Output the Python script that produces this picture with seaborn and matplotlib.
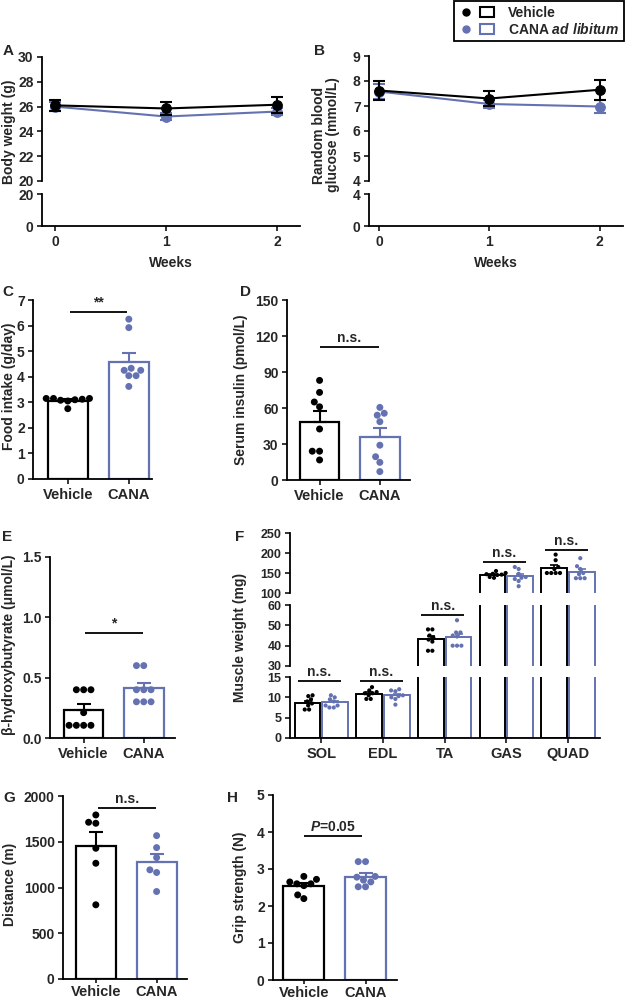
import numpy as np
import pandas as pd
import matplotlib
matplotlib.use("Agg")
import matplotlib.pyplot as plt
import seaborn as sns
from matplotlib.lines import Line2D
from matplotlib.patches import Patch
from matplotlib.legend_handler import HandlerTuple

# ---------------- data ----------------
groups = ["Vehicle", "CANA"]
weeks = [0, 1, 2]

bw_vehicle_mean = [26.1, 25.85, 26.15]
bw_vehicle_sem = [0.45, 0.55, 0.65]
bw_cana_mean = [26.0, 25.2, 25.6]
bw_cana_sem = [0.35, 0.3, 0.3]

glu_vehicle_mean = [7.62, 7.3, 7.65]
glu_vehicle_sem = [0.38, 0.3, 0.4]
glu_cana_mean = [7.58, 7.08, 6.98]
glu_cana_sem = [0.3, 0.15, 0.25]

food_vehicle = [3.15, 3.15, 3.12, 3.08, 3.05, 3.1, 3.15, 2.75]
food_cana = [6.25, 5.92, 4.33, 4.25, 4.25, 4.04, 4.04, 3.62]

insulin_vehicle = [83, 73, 65, 61, 42.5, 24, 24, 16.7]
insulin_cana = [60.5, 55.6, 54, 48.6, 29, 19.4, 14.7, 7]

bhb_vehicle = [0.40, 0.40, 0.40, 0.21, 0.105, 0.105, 0.105, 0.105]
bhb_cana = [0.6, 0.6, 0.4, 0.4, 0.4, 0.3, 0.3, 0.3]

muscles = ["SOL", "EDL", "TA", "GAS", "QUAD"]
sol_vehicle = [10.5, 10.3, 9.5, 9.0, 8.5, 7.0, 7.0, 8.0]
sol_cana = [10.5, 10.0, 9.5, 9.0, 8.0, 7.5, 7.5, 8.0]
edl_vehicle = [12.5, 11.7, 11.3, 11.0, 11.0, 10.5, 9.6, 9.6]
edl_cana = [12.0, 11.7, 11.5, 10.5, 10.3, 10.0, 9.6, 8.2]
ta_vehicle = [48, 48, 45, 44, 43, 42, 37.5, 37.5]
ta_cana = [52.5, 46.5, 46.5, 45, 44.5, 40, 40, 40]
gas_vehicle = [155, 150, 148, 147, 146, 145, 140, 138]
gas_cana = [165, 160, 148, 140, 138, 135, 130, 117]
quad_vehicle = [196, 182, 165, 160, 150, 150, 150, 150]
quad_cana = [187, 167, 160, 150, 147, 137, 137, 137]

distance_vehicle = [1793, 1713, 1702, 1429, 1265, 811]
distance_cana = [1567, 1436, 1327, 1193, 1164, 956]

grip_vehicle = [2.8, 2.72, 2.65, 2.6, 2.6, 2.55, 2.3, 2.2]
grip_cana = [3.2, 3.2, 2.8, 2.78, 2.7, 2.65, 2.52, 2.52]

# ---------------- style ----------------
sns.set_style("ticks")
plt.rcParams["font.family"] = ["Liberation Sans", "DejaVu Sans"]
plt.rcParams["font.weight"] = "bold"
plt.rcParams["axes.labelweight"] = "bold"
plt.rcParams["mathtext.fontset"] = "custom"
plt.rcParams["mathtext.it"] = "Liberation Sans:italic:bold"
plt.rcParams["mathtext.rm"] = "Liberation Sans:bold"
plt.rcParams["mathtext.bf"] = "Liberation Sans:bold"
plt.rcParams["axes.linewidth"] = 1.3
plt.rcParams["xtick.major.width"] = 1.3
plt.rcParams["ytick.major.width"] = 1.3
plt.rcParams["xtick.major.size"] = 3.5
plt.rcParams["ytick.major.size"] = 3.5
plt.rcParams["xtick.major.pad"] = 3
plt.rcParams["ytick.major.pad"] = 2.5
plt.rcParams["xtick.labelsize"] = 10
plt.rcParams["ytick.labelsize"] = 10
plt.rcParams["axes.edgecolor"] = "black"

BLUE = "#6472B1"
pal = {"Vehicle": "black", "CANA": BLUE}
FS = 10

W, H = 626, 1001
fig = plt.figure(figsize=(W / 100, H / 100), dpi=100)


def ax_px(x0, y0, x1, y1):
    a = fig.add_axes([x0 / W, 1 - y1 / H, (x1 - x0) / W, (y1 - y0) / H])
    sns.despine(ax=a)
    return a


def hide_x(a):
    a.spines["bottom"].set_visible(False)
    a.tick_params(bottom=False, labelbottom=False)


def ftext(x, y, s, **kw):
    fig.text(x / W, 1 - y / H, s, **kw)


def ylab(x, y, s):
    ftext(x, y, s, rotation=90, ha="center", va="center", fontsize=FS, fontweight="bold",
          linespacing=1.05)


def sig(ax, x0, x1, y, s, lw=1.3, fs=FS):
    ax.plot([x0, x1], [y, y], color="black", lw=lw, clip_on=False, solid_capstyle="butt")
    ax.annotate(s, xy=((x0 + x1) / 2, y), xytext=(0, 1.5), textcoords="offset points",
                ha="center", va="bottom", fontsize=fs, fontweight="bold", annotation_clip=False)


def sem(v):
    v = np.asarray(v, float)
    return v.std(ddof=1) / np.sqrt(len(v))


# ---------------- A & B: line panels ----------------
def line_panel(up, lo, v_mean, v_sem, c_mean, c_sem, up_lim, up_ticks, lo_lim, lo_ticks, xlim):
    for mean, err, col, z in [(c_mean, c_sem, BLUE, 2), (v_mean, v_sem, "black", 3)]:
        sns.lineplot(x=weeks, y=mean, color=col, marker="o", markersize=7, markeredgecolor=col,
                     linewidth=1.5, ax=up, zorder=z)
        up.errorbar(weeks, mean, yerr=err, fmt="none", ecolor=col, elinewidth=1.5,
                    capsize=4, capthick=1.5, zorder=z)
    up.set_ylim(*up_lim)
    up.set_yticks(up_ticks)
    up.set_xlim(*xlim)
    hide_x(up)
    lo.set_ylim(*lo_lim)
    lo.set_yticks(lo_ticks)
    lo.set_xlim(*xlim)
    lo.set_xticks(weeks)
    lo.set_xticklabels([str(w) for w in weeks])
    lo.set_xlabel("Weeks", fontsize=FS, fontweight="bold", labelpad=5)


A_up = ax_px(42, 57, 300, 181)
A_lo = ax_px(42, 194, 300, 226)
line_panel(A_up, A_lo, bw_vehicle_mean, bw_vehicle_sem, bw_cana_mean, bw_cana_sem,
           (20, 30), [20, 22, 24, 26, 28, 30], (0, 20), [0, 20], (-0.117, 2.207))

B_up = ax_px(369, 56, 623, 181)
B_lo = ax_px(369, 194, 623, 226)
line_panel(B_up, B_lo, glu_vehicle_mean, glu_vehicle_sem, glu_cana_mean, glu_cana_sem,
           (4, 9), [4, 5, 6, 7, 8, 9], (0, 4), [0, 4], (-0.09, 2.21))

ylab(9, 132, "Body weight (g)")
ylab(326, 135, "Random blood\nglucose (mmol/L)")


# ---------------- two-bar panels ----------------
def bar_panel(ax, vehicle, cana, ylim, yticks, xlim, dot=5, yfmt=None):
    df = pd.DataFrame({"group": ["Vehicle"] * len(vehicle) + ["CANA"] * len(cana),
                       "value": list(vehicle) + list(cana)})
    sns.barplot(data=df, x="group", y="value", hue="group", order=groups, hue_order=groups,
                palette=pal, errorbar=None, fill=False, width=0.66, linewidth=1.6,
                legend=False, ax=ax)
    sns.swarmplot(data=df, x="group", y="value", hue="group", order=groups, hue_order=groups,
                  palette=pal, size=dot, legend=False, ax=ax, zorder=3)
    for i, (vals, col) in enumerate([(vehicle, "black"), (cana, BLUE)]):
        ax.errorbar(i, np.mean(vals), yerr=[[0], [sem(vals)]], fmt="none", ecolor=col,
                    elinewidth=1.5, capsize=5, capthick=1.5, zorder=4)
    ax.set_ylim(*ylim)
    ax.set_yticks(yticks)
    if yfmt:
        ax.set_yticklabels([yfmt.format(t) for t in yticks])
    ax.set_xlim(*xlim)
    ax.set_xlabel("")
    ax.set_ylabel("")
    ax.tick_params(axis="x", labelsize=FS + 0.5)


C = ax_px(33, 300, 152, 479)
bar_panel(C, food_vehicle, food_cana, (0, 7), range(0, 8), (-0.57, 1.38))
sig(C, 0.03, 0.97, 6.55, "**")
ylab(9, 386, "Food intake (g/day)")

D = ax_px(287, 300, 410, 480)
bar_panel(D, insulin_vehicle, insulin_cana, (0, 150), [0, 30, 60, 90, 120, 150], (-0.54, 1.5))
sig(D, 0.0, 0.98, 111, "n.s.")
ylab(241, 390, "Serum insulin (pmol/L)")

E = ax_px(50, 557, 175, 738)
bar_panel(E, bhb_vehicle, bhb_cana, (0, 1.5), [0, 0.5, 1.0, 1.5], (-0.56, 1.52), yfmt="{:.1f}")
sig(E, 0.03, 0.98, 0.87, "*")
ylab(9, 645, "β-hydroxybutyrate (μmol/L)")

G = ax_px(63, 796, 187, 979)
bar_panel(G, distance_vehicle, distance_cana, (0, 2000), [0, 500, 1000, 1500, 2000], (-0.54, 1.5))
sig(G, 0.04, 0.99, 1865, "n.s.")
ylab(10, 884, "Distance (m)")

Hx = ax_px(273, 795, 397, 980)
bar_panel(Hx, grip_vehicle, grip_cana, (0, 5), range(0, 6), (-0.5, 1.51))
sig(Hx, 0.0, 0.94, 3.9, "$P$=0.05")
ylab(240, 887, "Grip strength (N)")

for a in (G, Hx):
    a.tick_params(axis="x", pad=1.5, length=3)

# ---------------- F: muscle weights (broken axis) ----------------
mus_lists = [(sol_vehicle, sol_cana), (edl_vehicle, edl_cana), (ta_vehicle, ta_cana),
             (gas_vehicle, gas_cana), (quad_vehicle, quad_cana)]
rows = []
for m, (v, c) in zip(muscles, mus_lists):
    rows += [(m, "Vehicle", x) for x in v]
    rows += [(m, "CANA", x) for x in c]
dfF = pd.DataFrame(rows, columns=["muscle", "group", "value"])

F_top = ax_px(290, 533, 600, 593)
F_mid = ax_px(290, 605, 600, 666)
F_bot = ax_px(290, 677, 600, 738)
for ax, lim, ticks in [(F_top, (100, 250), [100, 150, 200, 250]),
                       (F_mid, (30, 60), [30, 40, 50, 60]),
                       (F_bot, (0, 15), [0, 5, 10, 15])]:
    sns.barplot(data=dfF, x="muscle", y="value", hue="group", order=muscles, hue_order=groups,
                palette=pal, errorbar=None, fill=False, width=0.9, gap=0.07, linewidth=1.4,
                legend=False, ax=ax)
    sns.swarmplot(data=dfF, x="muscle", y="value", hue="group", order=muscles, hue_order=groups,
                  palette=pal, dodge=True, size=3, legend=False, ax=ax, zorder=3)
    for i, (v, c) in enumerate(mus_lists):
        for off, vals, col in [(-0.225, v, "black"), (0.225, c, BLUE)]:
            ax.errorbar(i + off, np.mean(vals), yerr=[[0], [sem(vals)]], fmt="none", ecolor=col,
                        elinewidth=1.2, capsize=3, capthick=1.2, zorder=4)
    ax.set_ylim(*lim)
    ax.set_yticks(ticks)
    ax.set_xlim(-0.51, 4.52)
    ax.set_xlabel("")
    ax.set_ylabel("")
    ax.tick_params(axis="y", labelsize=9)
hide_x(F_top)
hide_x(F_mid)
F_bot.tick_params(axis="x", labelsize=FS + 0.5)
sig(F_bot, -0.38, 0.32, 13.9, "n.s.")
sig(F_bot, 0.62, 1.32, 13.9, "n.s.")
sig(F_mid, 1.62, 2.32, 55, "n.s.")
sig(F_top, 2.62, 3.32, 176.7, "n.s.")
sig(F_top, 3.62, 4.32, 206.7, "n.s.")
ylab(240, 637, "Muscle weight (mg)")

# ---------------- panel letters ----------------
for s, x, y in [("A", 3, 51), ("B", 314, 51), ("C", 2, 292), ("D", 240, 292),
                ("E", 2, 537), ("F", 235, 537), ("G", 3, 798), ("H", 227, 798)]:
    ftext(x, y, s, ha="left", va="center", fontsize=11, fontweight="bold")

# ---------------- legend ----------------
h_v = (Line2D([], [], marker="o", color="black", ls="none", markersize=5),
       Patch(facecolor="white", edgecolor="black", linewidth=1.5))
h_c = (Line2D([], [], marker="o", color=BLUE, ls="none", markersize=5),
       Patch(facecolor="white", edgecolor=BLUE, linewidth=1.5))
leg = fig.legend([h_v, h_c], ["Vehicle", "CANA $\\mathit{ad\\ libitum}$"],
                 handler_map={tuple: HandlerTuple(ndivide=None, pad=0.5)},
                 loc="upper right", bbox_to_anchor=(625 / W, 1.0), frameon=True,
                 fancybox=False, edgecolor="black", framealpha=1, fontsize=10,
                 handlelength=2.6, handletextpad=1.0, borderpad=0.3, labelspacing=0.15,
                 borderaxespad=0.1)
leg.get_frame().set_linewidth(1.3)

fig.savefig("out.png", dpi=100)
